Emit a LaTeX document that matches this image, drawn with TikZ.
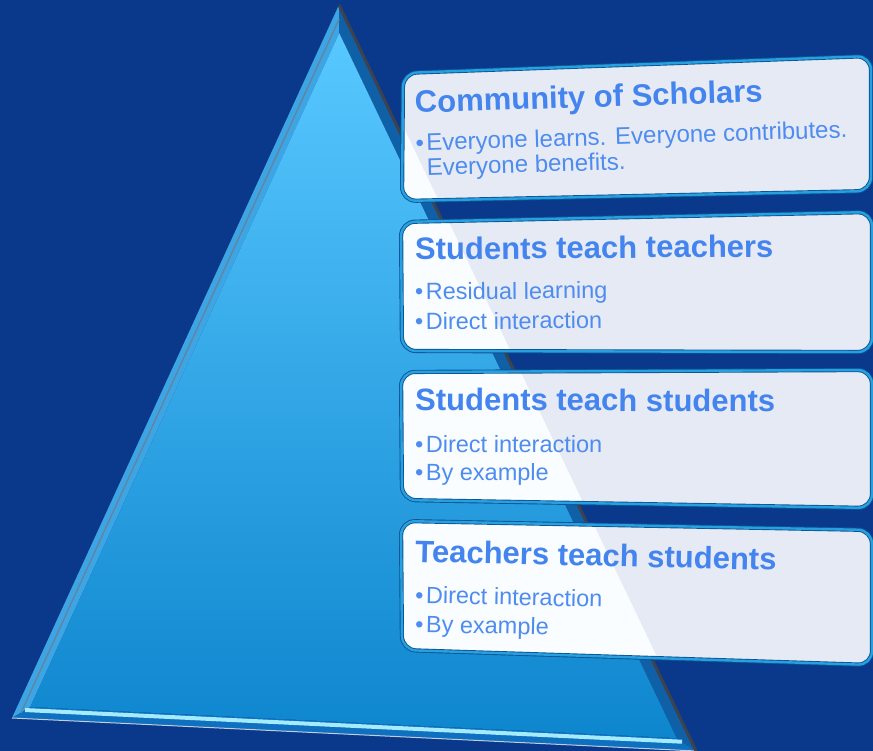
\documentclass[tikz,border=0pt]{standalone}
\usepackage{fontspec}
\setmainfont{Liberation Sans}
\usetikzlibrary{calc}
\definecolor{bg}{RGB}{10,56,138}
\definecolor{tritop}{RGB}{88,200,255}
\definecolor{trimid}{RGB}{48,168,238}
\definecolor{tribot}{RGB}{14,134,206}
\definecolor{leftbev}{RGB}{62,165,228}
\definecolor{leftline}{RGB}{95,135,165}
\definecolor{botbev}{RGB}{14,112,190}
\definecolor{bothl}{RGB}{165,235,255}
\definecolor{rightbev}{RGB}{16,96,168}
\definecolor{rightline}{RGB}{62,66,76}
\definecolor{boxfill}{RGB}{230,234,244}
\definecolor{boxwhite}{RGB}{250,253,255}
\definecolor{boxedge}{RGB}{38,160,222}
\definecolor{boxdark}{RGB}{12,84,150}
\definecolor{titlecol}{RGB}{68,132,238}
\definecolor{bodycol}{RGB}{78,140,240}
\newcommand\bul{•\hspace{2.5pt}}
\tikzset{
  titletext/.style={inner sep=0pt, anchor=base west, text=titlecol,
    font=\fontsize{31}{31}\selectfont\bfseries},
  bodytext/.style={inner sep=0pt, anchor=base west, text=bodycol,
    font=\fontsize{23.5}{23.5}\selectfont},
  bodytextb/.style={inner sep=0pt, anchor=north west, text=bodycol, align=left,
    font=\fontsize{24}{25}\selectfont},
}
\newcommand\glassbox[4]{%
  \fill[boxfill, rounded corners=14] #1 -- #2 -- #3 -- #4 -- cycle;
  \begin{scope}
    \clip[rounded corners=14] #1 -- #2 -- #3 -- #4 -- cycle;
    \fill[boxwhite] (0,0) -- ($(A)+(6,0)$) -- ($(C)+(6,0)$) -- (0,751) -- cycle;
  \end{scope}
  \draw[boxdark, line width=4.2, rounded corners=14] #1 -- #2 -- #3 -- #4 -- cycle;
  \draw[boxedge, line width=2.4, rounded corners=14] #1 -- #2 -- #3 -- #4 -- cycle;
}
\begin{document}
\begin{tikzpicture}[x=1pt,y=-1pt]
\useasboundingbox (0,0) rectangle (873,751);
\fill[bg] (0,0) rectangle (873,751);
% triangle
\coordinate (A) at (339,5);
\coordinate (B) at (12,718);
\coordinate (C) at (696,751);
\coordinate (I) at (343.2,516.6);
\coordinate (A2) at ($(I)!0.945!(A)$);
\coordinate (B2) at ($(I)!0.945!(B)$);
\coordinate (C2) at ($(I)!0.945!(C)$);
\fill[leftbev] (A) -- (B) -- (B2) -- (A2) -- cycle;
\fill[botbev] (B) -- (C) -- (C2) -- (B2) -- cycle;
\fill[rightbev] (C) -- (A) -- (A2) -- (C2) -- cycle;
\shade[top color=tritop, middle color=trimid, bottom color=tribot] (A2) -- (B2) -- (C2) -- cycle;
\draw[leftline, line width=1.5] ($(A2)!0.5!(A)$) -- ($(B2)!0.5!(B)$);
\draw[bothl, line width=4] ($(B2)!0.28!(B)$) -- ($(C2)!0.28!(C)$);
\draw[white!75!bg, line width=1] (B) -- (C);
\draw[rightline, line width=3] (A) -- (C);
% boxes
\glassbox{(403,73)}{(871,56)}{(871,191)}{(402,201)}
\glassbox{(401,222)}{(872,212)}{(872,352)}{(402,351)}
\glassbox{(401,372)}{(872,370)}{(872,508)}{(402,500)}
\glassbox{(401,521)}{(872,530)}{(872,665)}{(402,650)}
% texts
\node[titletext, rotate=1.8] (t1) at (415,113) {Community of Scholars};
\node[bodytextb, rotate=1.8] (b1) at (415,133.5) {\bul Everyone learns. Everyone contributes.\\\hspace{10.5pt}Everyone benefits.};
\node[titletext, rotate=0.5] (t2) at (415,260) {Students teach teachers};
\node[bodytext, rotate=0.5] (b2a) at (415,300) {\bul Residual learning};
\node[bodytext, rotate=0.5] (b2b) at (415,330) {\bul Direct interaction};
\node[titletext, rotate=-0.3] (t3) at (415,410) {Students teach students};
\node[bodytext, rotate=-0.3] (b3a) at (415,452) {\bul Direct interaction};
\node[bodytext, rotate=-0.3] (b3b) at (415,480) {\bul By example};
\node[titletext, rotate=-1.3] (t4) at (415,562) {Teachers teach students};
\node[bodytext, rotate=-1.3] (b4a) at (415,603) {\bul Direct interaction};
\node[bodytext, rotate=-1.3] (b4b) at (415,632) {\bul By example};
\end{tikzpicture}
\end{document}
